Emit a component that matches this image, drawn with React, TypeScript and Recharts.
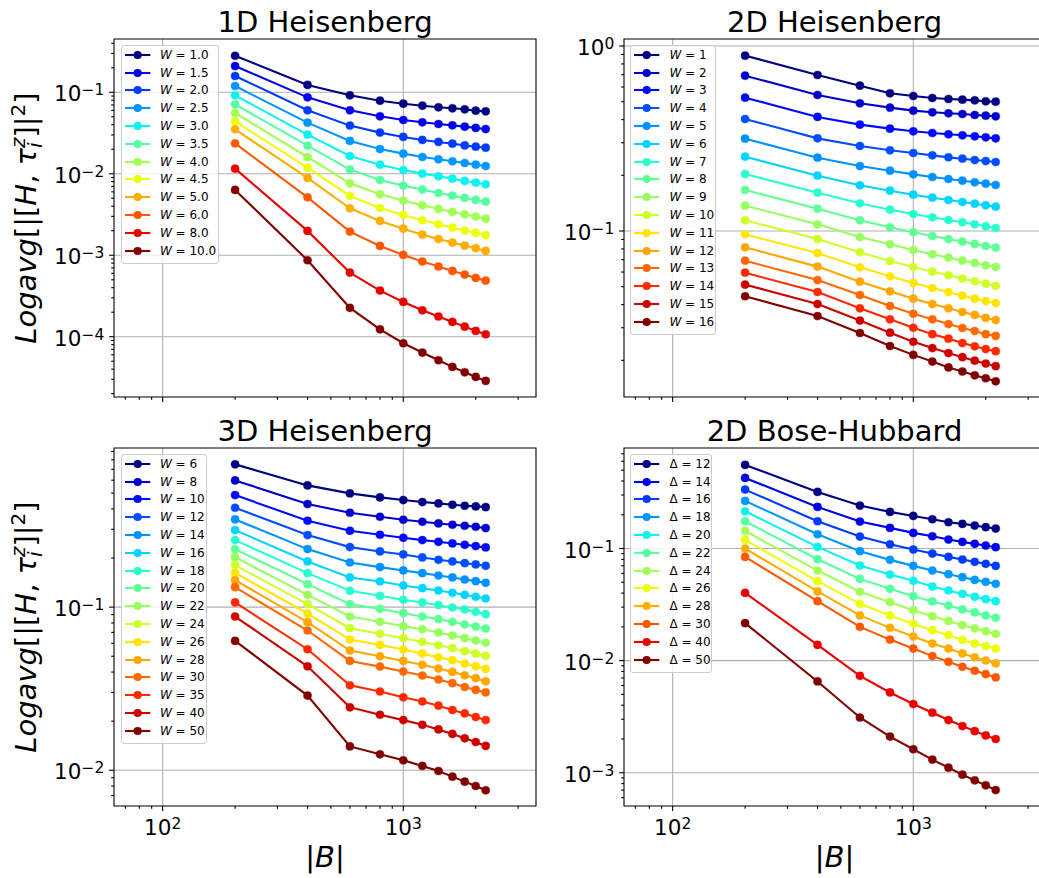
import React from 'react';
import { LineChart, Line, XAxis, YAxis, CartesianGrid, ReferenceArea, Legend } from 'recharts';

// ---------------- data ----------------
const blockSizes = [200, 400, 600, 800, 1000, 1200, 1400, 1600, 1800, 2000, 2200];
const xMajorTicks = [100, 1000];
const xDomain: [number, number] = [62.78, 3560];

// 1D Heisenberg
const heis1DLabels = ['1.0', '1.5', '2.0', '2.5', '3.0', '3.5', '4.0', '4.5', '5.0', '6.0', '8.0', '10.0'];
const heis1DValues = [
  [0.281, 0.123, 0.0918, 0.0789, 0.0725, 0.0685, 0.0654, 0.0636, 0.0618, 0.0595, 0.0584],
  [0.21, 0.0867, 0.0601, 0.0507, 0.0457, 0.0428, 0.0408, 0.0393, 0.0379, 0.0365, 0.0354],
  [0.1585, 0.0601, 0.039, 0.032, 0.0283, 0.026, 0.0246, 0.0234, 0.0223, 0.0215, 0.0209],
  [0.1195, 0.0424, 0.0253, 0.0201, 0.01766, 0.01607, 0.01505, 0.01422, 0.01356, 0.01294, 0.01246],
  [0.0918, 0.0302, 0.01653, 0.01294, 0.01113, 0.01004, 0.00931, 0.00871, 0.00816, 0.00778, 0.00743],
  [0.0712, 0.0221, 0.01124, 0.00839, 0.00715, 0.00639, 0.00581, 0.00539, 0.00505, 0.00477, 0.00455],
  [0.0557, 0.01607, 0.00764, 0.0056, 0.00468, 0.0041, 0.0037, 0.0034, 0.00318, 0.00298, 0.00281],
  [0.044, 0.01189, 0.00534, 0.0038, 0.00312, 0.00269, 0.0024, 0.00218, 0.00201, 0.00188, 0.00177],
  [0.0351, 0.00888, 0.00377, 0.00264, 0.00212, 0.00179, 0.00158, 0.00143, 0.00131, 0.00122, 0.00113],
  [0.0236, 0.00514, 0.00195, 0.0013, 0.00101, 0.000835, 0.000725, 0.000642, 0.000579, 0.000527, 0.000488],
  [0.01156, 0.00199, 0.000612, 0.000368, 0.000267, 0.000211, 0.000177, 0.000152, 0.000133, 0.0001178, 0.0001072],
  [0.00633, 0.000868, 0.000226, 0.0001234, 0.0000831, 0.0000639, 0.0000514, 0.0000426, 0.0000366, 0.0000321, 0.0000287],
];
const heis1DYTicks = [1e-4, 1e-3, 1e-2, 1e-1];
const heis1DYDomain: [number, number] = [1.82e-5, 0.451];

// 2D Heisenberg
const heis2DLabels = ['1', '2', '3', '4', '5', '6', '7', '8', '9', '10', '11', '12', '13', '14', '15', '16'];
const heis2DValues = [
  [0.887, 0.697, 0.6105, 0.5549, 0.5368, 0.5236, 0.5171, 0.5129, 0.5085, 0.5022, 0.5001],
  [0.6912, 0.5435, 0.4899, 0.4642, 0.4472, 0.4381, 0.4327, 0.4291, 0.4238, 0.4203, 0.4168],
  [0.5257, 0.4134, 0.3757, 0.3575, 0.3458, 0.3387, 0.3331, 0.329, 0.3249, 0.3208, 0.3168],
  [0.4031, 0.3168, 0.2881, 0.273, 0.2641, 0.2564, 0.2501, 0.246, 0.2419, 0.2389, 0.236],
  [0.3155, 0.249, 0.2245, 0.2119, 0.2024, 0.1958, 0.191, 0.1871, 0.1833, 0.1803, 0.1773],
  [0.2522, 0.1991, 0.1766, 0.1652, 0.1572, 0.1514, 0.1471, 0.1435, 0.1405, 0.1376, 0.1354],
  [0.2032, 0.1611, 0.1411, 0.1304, 0.1235, 0.1185, 0.1147, 0.1114, 0.1087, 0.106, 0.1038],
  [0.1666, 0.132, 0.1142, 0.1047, 0.0984, 0.094, 0.0905, 0.0876, 0.0851, 0.083, 0.0813],
  [0.1371, 0.1087, 0.0928, 0.0847, 0.0789, 0.0748, 0.0718, 0.0691, 0.0672, 0.0653, 0.0639],
  [0.1142, 0.0905, 0.0767, 0.0688, 0.0639, 0.0603, 0.0576, 0.0553, 0.0535, 0.0519, 0.0506],
  [0.0959, 0.076, 0.0636, 0.0569, 0.0524, 0.0492, 0.0468, 0.0447, 0.0431, 0.0418, 0.0408],
  [0.0816, 0.0642, 0.0532, 0.0472, 0.0431, 0.0403, 0.0382, 0.0365, 0.0352, 0.0339, 0.033],
  [0.0691, 0.0543, 0.0451, 0.0393, 0.0357, 0.0333, 0.0314, 0.0299, 0.0288, 0.0277, 0.0271],
  [0.0595, 0.0468, 0.0382, 0.0333, 0.03, 0.0277, 0.0262, 0.0248, 0.0238, 0.023, 0.0224],
  [0.0513, 0.0403, 0.0328, 0.0282, 0.0252, 0.0233, 0.0219, 0.0208, 0.0199, 0.0192, 0.0186],
  [0.0444, 0.0347, 0.0281, 0.0239, 0.0214, 0.0197, 0.0183, 0.0174, 0.0166, 0.016, 0.0154],
];
const heis2DYTicks = [1e-1, 1];
const heis2DYDomain: [number, number] = [0.01267, 1.091];

// 3D Heisenberg
const heis3DLabels = ['6', '8', '10', '12', '14', '16', '18', '20', '22', '24', '26', '28', '30', '35', '40', '50'];
const heis3DValues = [
  [0.75, 0.5575, 0.4979, 0.4706, 0.4531, 0.4406, 0.4323, 0.4243, 0.4183, 0.4144, 0.4105],
  [0.5982, 0.4283, 0.3789, 0.3581, 0.3432, 0.3336, 0.3259, 0.3198, 0.3153, 0.3109, 0.3051],
  [0.4863, 0.3384, 0.2938, 0.2777, 0.2661, 0.2575, 0.2515, 0.2457, 0.2411, 0.2366, 0.2322],
  [0.4067, 0.2764, 0.2333, 0.2195, 0.2103, 0.2016, 0.1951, 0.1905, 0.1861, 0.1826, 0.1792],
  [0.3448, 0.2268, 0.1878, 0.1759, 0.1678, 0.1616, 0.1563, 0.152, 0.1477, 0.1443, 0.1409],
  [0.2966, 0.1905, 0.152, 0.1436, 0.1357, 0.1307, 0.1265, 0.1224, 0.119, 0.1157, 0.113],
  [0.2575, 0.1616, 0.1259, 0.1173, 0.1109, 0.1068, 0.1028, 0.0995, 0.0967, 0.0936, 0.0905],
  [0.2268, 0.1383, 0.1043, 0.0976, 0.0918, 0.0876, 0.0844, 0.0813, 0.0782, 0.0761, 0.0739],
  [0.2025, 0.119, 0.0876, 0.0813, 0.0764, 0.0732, 0.0699, 0.067, 0.0645, 0.0624, 0.0604],
  [0.1809, 0.1043, 0.0743, 0.0686, 0.0645, 0.0612, 0.0584, 0.056, 0.0537, 0.0519, 0.0503],
  [0.1623, 0.0914, 0.0633, 0.0587, 0.055, 0.0519, 0.0493, 0.0473, 0.0451, 0.0434, 0.0418],
  [0.1463, 0.0809, 0.0542, 0.05, 0.0468, 0.0443, 0.042, 0.0401, 0.0382, 0.0367, 0.0351],
  [0.1326, 0.0719, 0.0468, 0.0432, 0.0403, 0.0381, 0.036, 0.0342, 0.0324, 0.0311, 0.03],
  [0.1068, 0.0552, 0.0332, 0.0304, 0.028, 0.0264, 0.0249, 0.0234, 0.0223, 0.0212, 0.0203],
  [0.0876, 0.0434, 0.0243, 0.0219, 0.0203, 0.019, 0.0178, 0.0167, 0.0157, 0.0149, 0.0141],
  [0.0621, 0.0287, 0.014, 0.01253, 0.01151, 0.01063, 0.0099, 0.00914, 0.00852, 0.00801, 0.00754],
];
const heis3DYTicks = [1e-2, 1e-1];
const heis3DYDomain: [number, number] = [0.00604, 0.945];

// 2D Bose-Hubbard
const bhLabels = ['12', '14', '16', '18', '20', '22', '24', '26', '28', '30', '40', '50'];
const bhValues = [
  [0.5565, 0.3197, 0.2415, 0.2121, 0.1953, 0.1824, 0.1715, 0.1658, 0.1602, 0.1549, 0.1507],
  [0.4262, 0.2349, 0.1739, 0.1527, 0.1378, 0.1287, 0.1202, 0.1146, 0.11, 0.1063, 0.1027],
  [0.3354, 0.1751, 0.1279, 0.1092, 0.0979, 0.0902, 0.0842, 0.0797, 0.076, 0.073, 0.07],
  [0.2658, 0.1341, 0.0946, 0.0792, 0.07, 0.0636, 0.059, 0.0555, 0.0525, 0.0504, 0.0484],
  [0.215, 0.1034, 0.0705, 0.0586, 0.0515, 0.0458, 0.0422, 0.0394, 0.0371, 0.0353, 0.0339],
  [0.1751, 0.0803, 0.0536, 0.0437, 0.0376, 0.0337, 0.031, 0.0286, 0.0269, 0.0253, 0.0241],
  [0.1437, 0.0636, 0.0411, 0.0332, 0.0282, 0.0249, 0.0226, 0.0207, 0.0194, 0.0183, 0.0173],
  [0.1194, 0.0511, 0.0321, 0.0253, 0.0213, 0.0187, 0.0169, 0.0153, 0.0142, 0.0135, 0.0128],
  [0.1, 0.0414, 0.0253, 0.0196, 0.0164, 0.0142, 0.0128, 0.0116, 0.0107, 0.01003, 0.00944],
  [0.0842, 0.0339, 0.02, 0.0154, 0.0128, 0.01097, 0.00976, 0.00881, 0.00812, 0.00758, 0.00708],
  [0.0402, 0.0138, 0.00732, 0.0052, 0.0041, 0.00343, 0.00295, 0.00261, 0.00235, 0.00215, 0.002],
  [0.0216, 0.00652, 0.00311, 0.0021, 0.00162, 0.00131, 0.00111, 0.00096, 0.000855, 0.000772, 0.000701],
];
const bhYTicks = [1e-3, 1e-2, 1e-1];
const bhYDomain: [number, number] = [0.000505, 0.788];

// ---------------- helpers ----------------
const FONT = 'DejaVu Sans';

function interp(pts: number[][], t: number): number {
  for (let i = 0; i < pts.length - 1; i++) {
    const [x0, y0] = pts[i];
    const [x1, y1] = pts[i + 1];
    if (t >= x0 && t <= x1) return y0 + ((t - x0) / (x1 - x0)) * (y1 - y0);
  }
  return pts[pts.length - 1][1];
}
function jet(t: number): string {
  const r = interp([[0, 0], [0.35, 0], [0.66, 1], [0.89, 1], [1, 0.5]], t);
  const g = interp([[0, 0], [0.125, 0], [0.375, 1], [0.64, 1], [0.91, 0], [1, 0]], t);
  const b = interp([[0, 0.5], [0.11, 1], [0.34, 1], [0.65, 0], [1, 0]], t);
  const h = (v: number) => Math.round(Math.max(0, Math.min(1, v)) * 255).toString(16).padStart(2, '0');
  return '#' + h(r) + h(g) + h(b);
}
function logTicks(domain: [number, number]): number[] {
  const out: number[] = [];
  const lo = Math.floor(Math.log10(domain[0]));
  const hi = Math.ceil(Math.log10(domain[1]));
  for (let k = lo; k <= hi; k++) {
    for (let d = 1; d <= 9; d++) {
      const v = d * Math.pow(10, k);
      if (v >= domain[0] && v <= domain[1]) out.push(v);
    }
  }
  return out;
}
function isMajor(v: number): boolean {
  const l = Math.log10(v);
  return Math.abs(l - Math.round(l)) < 1e-7;
}
function expText(v: number): string {
  const e = Math.round(Math.log10(v));
  return e < 0 ? '\u2212' + String(-e) : String(e);
}

const TICK_FS = 21.5;
const EXP_FS = 15.5;
const MAJOR_LEN = 4.9;
const MINOR_LEN = 2.8;

function XTick(props: any) {
  const { x, y, payload, showLabel } = props;
  const v = payload.value;
  const major = isMajor(v);
  return (
    <g>
      <line x1={x} x2={x} y1={y} y2={y + (major ? MAJOR_LEN : MINOR_LEN)} stroke="#000" strokeWidth={1.1} />
      {major && showLabel && (
        <text x={x} y={y + 29} textAnchor="middle" fontFamily={FONT} fontSize={TICK_FS} fill="#000">
          10<tspan dy={-6} fontSize={EXP_FS}>{expText(v)}</tspan>
        </text>
      )}
    </g>
  );
}

function YTick(props: any) {
  const { x, y, payload } = props;
  const v = payload.value;
  const major = isMajor(v);
  return (
    <g>
      <line x1={x - (major ? MAJOR_LEN : MINOR_LEN)} x2={x} y1={y} y2={y} stroke="#000" strokeWidth={1.1} />
      {major && (
        <text x={x - 9.7} y={y + 9.2} textAnchor="end" fontFamily={FONT} fontSize={TICK_FS} fill="#000">
          10<tspan dy={-6} fontSize={EXP_FS}>{expText(v)}</tspan>
        </text>
      )}
    </g>
  );
}

const ROW_H = 17.8;

function LegendBox({ labels, colors, symbol, width }: any) {
  return (
    <div
      style={{
        width,
        boxSizing: 'border-box',
        background: 'rgba(255,255,255,0.8)',
        border: '1px solid #cccccc',
        borderRadius: 3,
        padding: '0 0 3px 3.3px',
        fontFamily: FONT,
        fontSize: 12,
        color: '#000',
      }}
    >
      {labels.map((lab: string, i: number) => (
        <div key={i} style={{ display: 'flex', alignItems: 'center', height: ROW_H, whiteSpace: 'nowrap' }}>
          <svg width={25.3} height={10} style={{ display: 'block', overflow: 'visible' }}>
            <line x1={0} x2={25.3} y1={5} y2={5} stroke={colors[i]} strokeWidth={2.1} />
            <circle cx={12.65} cy={5} r={4.1} fill={colors[i]} />
          </svg>
          <span style={{ marginLeft: 9.7 }}>
            {symbol === 'W' ? <span style={{ fontStyle: 'italic' }}>W</span> : <span>{'\u0394'}</span>}
            {' = '}
            {lab}
          </span>
        </div>
      ))}
    </div>
  );
}

const PLOT_W = 422;
const PLOT_H = 358;
const ML = 90;
const MT = 10;
const MR = 10;
const MB = 50;

function Panel(p: any) {
  const colors = p.labels.map((_: string, i: number) => jet(i / (p.labels.length - 1)));
  const data = blockSizes.map((x, j) => {
    const row: any = { x };
    p.values.forEach((s: number[], i: number) => {
      row['s' + i] = s[j];
    });
    return row;
  });
  const xTicks = logTicks(xDomain);
  const yTicks = logTicks(p.yDomain);
  return (
    <div style={{ position: 'absolute', left: p.plotLeft - ML, top: p.plotTop - MT }}>
      <LineChart
        width={ML + PLOT_W + MR}
        height={MT + PLOT_H + MB}
        data={data}
        margin={{ top: MT, right: MR, bottom: 0, left: 0 }}
      >
        <CartesianGrid
          horizontalValues={p.yMajor}
          verticalValues={xMajorTicks}
          stroke="#b0b0b0"
          strokeWidth={1.1}
          fill="none"
        />
        <XAxis
          dataKey="x"
          type="number"
          scale="log"
          domain={xDomain}
          allowDataOverflow
          ticks={xTicks}
          interval={0}
          tickSize={0}
          tickMargin={0}
          tickLine={false}
          axisLine={false}
          height={MB}
          tick={(tp: any) => <XTick {...tp} showLabel={p.showXLabels} />}
        />
        <YAxis
          type="number"
          scale="log"
          domain={p.yDomain}
          allowDataOverflow
          ticks={yTicks}
          interval={0}
          width={ML}
          tickSize={0}
          tickMargin={0}
          tickLine={false}
          axisLine={false}
          tick={(tp: any) => <YTick {...tp} />}
        />
        <ReferenceArea
          x1={xDomain[0]}
          x2={xDomain[1]}
          y1={p.yDomain[0]}
          y2={p.yDomain[1]}
          fill="none"
          fillOpacity={0}
          stroke="#000"
          strokeWidth={1.1}
          ifOverflow="visible"
        />
        {p.labels.map((lab: string, i: number) => (
          <Line
            key={i}
            type="linear"
            dataKey={'s' + i}
            name={lab}
            stroke={colors[i]}
            strokeWidth={2.1}
            dot={{ r: 4.1, fill: colors[i], stroke: colors[i], strokeWidth: 0.3 }}
            activeDot={false}
            isAnimationActive={false}
          />
        ))}
        <Legend
          layout="horizontal"
          verticalAlign="middle"
          align="center"
          wrapperStyle={{ left: ML + 6.6, top: MT + 6, width: p.legendWidth, height: 'auto' }}
          content={() => <LegendBox labels={p.labels} colors={colors} symbol={p.symbol} width={p.legendWidth} />}
        />
      </LineChart>
    </div>
  );
}

function YLabel({ x, y }: { x: number; y: number }) {
  return (
    <text transform={`translate(${x},${y}) rotate(-90)`} textAnchor="middle" fontFamily={FONT} fontSize={29} fill="#000">
      <tspan fontStyle="italic">Logavg</tspan>
      <tspan>[|[</tspan>
      <tspan fontStyle="italic">H</tspan>
      <tspan>, </tspan>
      <tspan fontStyle="italic">{'\u03C4'}</tspan>
      <tspan fontStyle="italic" fontSize={20} dy={6}>i</tspan>
      <tspan fontStyle="italic" fontSize={20} dx={-5.6} dy={-17}>z</tspan>
      <tspan dy={11}>]|</tspan>
      <tspan fontSize={20} dy={-11}>2</tspan>
      <tspan dy={11}>]</tspan>
    </text>
  );
}

function XLabel({ x, y }: { x: number; y: number }) {
  return (
    <text x={x} y={y} textAnchor="middle" fontFamily={FONT} fontSize={29} fill="#000">
      |<tspan fontStyle="italic">B</tspan>|
    </text>
  );
}

export default function App() {
  const leftX = 114;
  const rightX = 623.5;
  const topY = 39;
  const botY = 448;
  return (
    <div style={{ position: 'absolute', left: 0, top: 0, width: 1039, height: 878, overflow: 'hidden', background: '#fff' }}>
      <Panel plotLeft={leftX} plotTop={topY} labels={heis1DLabels} values={heis1DValues} symbol="W"
        yDomain={heis1DYDomain} yMajor={heis1DYTicks} showXLabels={false} legendWidth={98} />
      <Panel plotLeft={rightX} plotTop={topY} labels={heis2DLabels} values={heis2DValues} symbol="W"
        yDomain={heis2DYDomain} yMajor={heis2DYTicks} showXLabels={false} legendWidth={86} />
      <Panel plotLeft={leftX} plotTop={botY} labels={heis3DLabels} values={heis3DValues} symbol="W"
        yDomain={heis3DYDomain} yMajor={heis3DYTicks} showXLabels={true} legendWidth={86} />
      <Panel plotLeft={rightX} plotTop={botY} labels={bhLabels} values={bhValues} symbol="D"
        yDomain={bhYDomain} yMajor={bhYTicks} showXLabels={true} legendWidth={82} />
      <svg width={1039} height={878} style={{ position: 'absolute', left: 0, top: 0, pointerEvents: 'none' }}>
        <text x={leftX + PLOT_W / 2} y={32.3} textAnchor="middle" fontFamily={FONT} fontSize={29} fill="#000">1D Heisenberg</text>
        <text x={rightX + PLOT_W / 2} y={32.3} textAnchor="middle" fontFamily={FONT} fontSize={29} fill="#000">2D Heisenberg</text>
        <text x={leftX + PLOT_W / 2} y={441} textAnchor="middle" fontFamily={FONT} fontSize={29} fill="#000">3D Heisenberg</text>
        <text x={rightX + PLOT_W / 2} y={441} textAnchor="middle" fontFamily={FONT} fontSize={29} fill="#000">2D Bose-Hubbard</text>
        <YLabel x={35.5} y={topY + PLOT_H / 2} />
        <YLabel x={35.5} y={botY + PLOT_H / 2} />
        <XLabel x={leftX + PLOT_W / 2} y={867} />
        <XLabel x={rightX + PLOT_W / 2} y={867} />
      </svg>
    </div>
  );
}
